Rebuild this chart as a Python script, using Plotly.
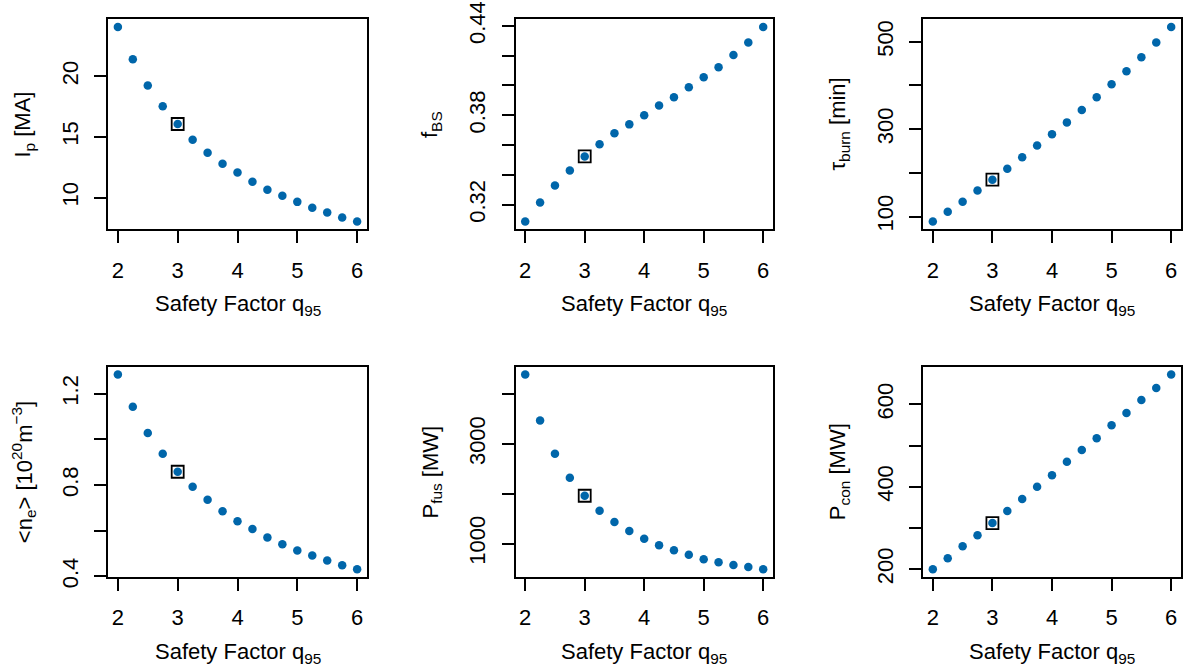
import plotly.graph_objects as go

W, H = 1183, 668

q95 = [2.0, 2.25, 2.5, 2.75, 3.0, 3.25, 3.5, 3.75, 4.0, 4.25, 4.5, 4.75, 5.0, 5.25, 5.5, 5.75, 6.0]
ip_MA = [24.05, 21.4, 19.23, 17.52, 16.06, 14.77, 13.69, 12.78, 12.07, 11.30, 10.64, 10.14, 9.64, 9.15, 8.76, 8.35, 8.02]
f_bs = [0.3087, 0.3215, 0.3329, 0.343, 0.3524, 0.3605, 0.3679, 0.3739, 0.380, 0.3865, 0.3921, 0.3988, 0.4056, 0.4123, 0.4204, 0.4289, 0.4392]
tau_burn = [88.5, 110.8, 133.7, 159.7, 184.2, 209.4, 235.4, 262.3, 288.5, 315.5, 343.7, 372.8, 402.7, 432.6, 464.7, 498.6, 533.7]
n_e = [1.284, 1.143, 1.028, 0.937, 0.858, 0.792, 0.735, 0.685, 0.641, 0.607, 0.570, 0.540, 0.513, 0.491, 0.469, 0.448, 0.431]
p_fus = [4394, 3469, 2805, 2322, 1960, 1658, 1431, 1250, 1095, 968, 867, 773, 686, 625, 571, 531, 485]
p_con = [200, 226.6, 255.6, 282.3, 312, 341.1, 370.2, 400, 428.2, 460.5, 489.5, 517.8, 549.3, 579.1, 610.6, 639.7, 672.5]

selected_q = 3.0

series = [ip_MA, f_bs, tau_burn, n_e, p_fus, p_con]
y_titles = [
    "I<sub>p</sub> [MA]",
    "f<sub>BS</sub>",
    "τ<sub>burn</sub> [min]",
    "&lt;n<sub>e</sub>&gt; [10<sup>20</sup>m<sup>−3</sup>]",
    "P<sub>fus</sub> [MW]",
    "P<sub>con</sub> [MW]",
]
y_tickvals = [
    [10, 15, 20],
    [0.32, 0.34, 0.36, 0.38, 0.40, 0.42, 0.44],
    [100, 200, 300, 400, 500],
    [0.4, 0.6, 0.8, 1.0, 1.2],
    [1000, 2000, 3000, 4000],
    [200, 300, 400, 500, 600],
]
y_ticktext = [
    ["10", "15", "20"],
    ["0.32", "", "", "0.38", "", "", "0.44"],
    ["100", "", "300", "", "500"],
    ["0.4", "", "0.8", "", "1.2"],
    ["1000", "", "3000", ""],
    ["200", "", "400", "", "600"],
]
x_tickvals = [2, 3, 4, 5, 6]
x_title = "Safety Factor q<sub>95</sub>"

# panel boxes in pixels (left, right, top, bottom)
cols = [(108.3, 366.7), (515.7, 772.7), (923.3, 1180.7)]
rows = [(19.3, 229.3), (366.7, 577.0)]

FONT = "Liberation Sans, Arial, Helvetica, sans-serif"
FS = 22
DOT = "#0066AA"

fig = go.Figure()
layout = dict(
    width=W, height=H, autosize=False,
    margin=dict(l=0, r=0, t=0, b=0, pad=0, autoexpand=False),
    paper_bgcolor="white", plot_bgcolor="white", showlegend=False,
    font=dict(family=FONT, size=FS, color="black"),
)
annotations = []

def ext(vals):
    lo, hi = min(vals), max(vals)
    s = hi - lo
    return [lo - 0.04 * s, hi + 0.04 * s]

for i, ys in enumerate(series):
    r, c = divmod(i, 3)
    xl, xr = cols[c]
    yt, yb = rows[r]
    n = i + 1
    xa = "xaxis" if n == 1 else f"xaxis{n}"
    ya = "yaxis" if n == 1 else f"yaxis{n}"
    xref = "x" if n == 1 else f"x{n}"
    yref = "y" if n == 1 else f"y{n}"
    common = dict(showline=True, linecolor="black", linewidth=2, mirror=True,
                  ticks="outside", ticklen=12, tickwidth=1.8, tickcolor="black",
                  showgrid=False, zeroline=False, fixedrange=True, automargin=False,
                  tickfont=dict(family=FONT, size=FS, color="black"))
    layout[xa] = dict(common, domain=[xl / W, xr / W], anchor=yref,
                      range=ext(q95), tickmode="array", tickvals=x_tickvals,
                      ticktext=[str(v) for v in x_tickvals], ticklabelstandoff=8)
    layout[ya] = dict(common, domain=[1 - yb / H, 1 - yt / H], anchor=xref,
                      range=ext(ys), tickmode="array", tickvals=y_tickvals[i],
                      ticktext=y_ticktext[i], tickangle=-90, ticklabelstandoff=8)
    fig.add_trace(go.Scatter(x=q95, y=ys, mode="markers", xaxis=xref, yaxis=yref,
                             marker=dict(color=DOT, size=8.5, line=dict(width=0)),
                             hoverinfo="x+y"))
    sel_y = ys[q95.index(selected_q)]
    fig.add_trace(go.Scatter(x=[selected_q], y=[sel_y], mode="markers", xaxis=xref, yaxis=yref,
                             marker=dict(symbol="square-open", color="black", size=12,
                                         line=dict(width=1.8, color="black")),
                             hoverinfo="skip"))
    annotations.append(dict(text=x_title, xref="paper", yref="paper",
                            x=(xl + xr) / 2 / W, y=1 - (yb + 76) / H,
                            xanchor="center", yanchor="middle", showarrow=False,
                            font=dict(family=FONT, size=FS, color="black")))
    annotations.append(dict(text=y_titles[i], xref="paper", yref="paper",
                            x=(xl - 84) / W, y=1 - (yt + yb) / 2 / H,
                            xanchor="center", yanchor="middle", textangle=-90, showarrow=False,
                            font=dict(family=FONT, size=FS, color="black")))

layout["annotations"] = annotations
fig.update_layout(**layout)
fig.write_html("out.html")
